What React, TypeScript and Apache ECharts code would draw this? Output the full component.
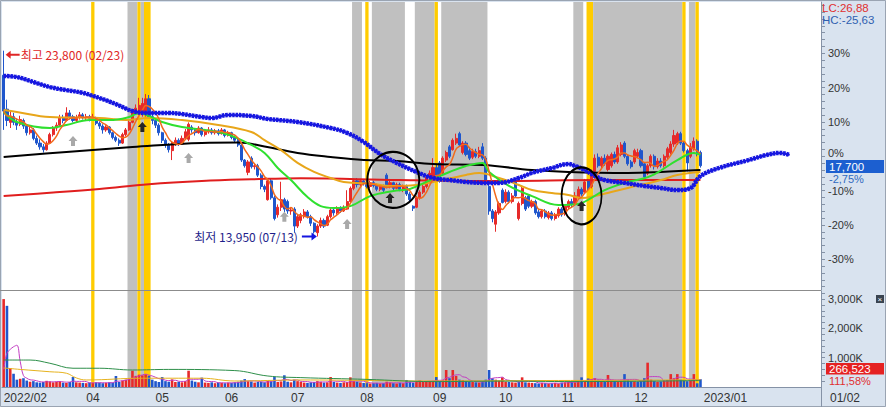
import React, { useEffect, useRef } from "react";
import * as echarts from "echarts";

const FONT = '"Noto Sans CJK KR", "Noto Sans", sans-serif';
const NUM_FONT = '"Liberation Sans", Arial, sans-serif';
const BASE_PRICE = 18200;
const HOLIDAYS = ["2022-03-01","2022-03-09","2022-05-05","2022-06-01","2022-06-06","2022-08-15","2022-09-09","2022-09-12","2022-10-03","2022-10-10","2022-12-30","2023-01-23","2023-01-24"];
const FUTURE_SLOTS = 36;

// [open, close, low, high]
const CANDLES: number[][] = [
[22500,20600,19600,23800],[20700,20100,19800,21200],[20000,20300,19700,20600],[20300,20000,19850,20500],[20000,19850,19600,20200],
[19900,20150,19800,20350],[20100,19800,19650,20200],[19800,19450,19300,19900],[19450,19600,19350,19750],[19600,19150,19050,19700],
[19150,18900,18800,19300],[18900,18700,18550,19100],[18700,18550,18400,18850],[18550,18900,18500,19000],[18900,19350,18850,19450],
[19350,19700,19250,19800],[19700,19850,19550,20000],[19850,20250,19800,20400],[20250,20100,19950,20400],[20100,20500,20050,20800],
[20500,20300,20150,20650],[20300,20100,20000,20400],[20100,20250,20000,20400],[20250,20400,20150,20550],[20400,20250,20150,20500],
[20250,20300,20100,20450],[20300,20200,20050,20400],[20200,20250,20100,20450],[20250,19950,19850,20300],[19950,19800,19650,20050],
[19800,19600,19400,19900],[19600,19750,19500,19850],[19750,19450,19350,19800],[19450,19200,19100,19500],[19200,19050,18950,19300],
[19050,18900,18750,19150],[18900,19350,18850,19450],[19350,19600,19250,19700],[19600,20000,19550,20150],[20000,20550,19950,20700],
[20550,20750,20400,20950],[20500,20900,20400,21300],[20400,21000,20300,21300],[20500,21250,20300,21500],[21250,20300,20200,21450],
[20300,20100,19900,20450],[20100,19850,19700,20200],[19850,19450,19300,19950],[19450,19050,18900,19500],[19050,18800,18650,19150],
[18800,18550,18400,18900],[18500,18900,18000,19000],[18900,19050,18750,19200],[19050,18850,18750,19150],[18850,19150,18800,19300],
[19150,19500,19100,19650],[19100,19900,19000,20000],[19750,19600,19450,19850],[19600,19450,19300,19700],[19450,19700,19400,19800],
[19700,19350,19250,19750],[19350,19500,19250,19650],[19500,19600,19400,19750],[19600,19450,19350,19700],[19450,19550,19350,19650],
[19550,19400,19300,19650],[19400,19600,19350,19700],[19600,19300,19200,19650],[19300,19450,19250,19550],[19450,19200,19100,19500],
[19200,19050,18950,19300],[19050,18800,18700,19150],[18800,18000,17900,18850],[18000,17700,17600,18050],[17350,17900,17200,18000],
[18100,17650,17550,18200],[17650,17700,17500,17850],[17700,17200,17100,17800],[17200,16600,16450,17300],[16600,16450,16300,16700],
[15900,16900,15850,17000],[16900,16000,15900,17000],[16000,14900,14800,16100],[15100,15500,14950,15650],[15500,15900,15300,16850],
[15900,15400,15250,16000],[15800,15300,15150,15900],[15300,15350,15100,15500],[15400,14500,14150,15500],[14500,15000,14400,15150],
[14800,15100,14650,15200],[15000,15250,14900,15400],[15250,15000,14900,15350],[15000,14650,14500,15100],[14650,14200,14100,14700],
[14150,14500,13950,14600],[14500,14800,14400,14950],[14800,14500,14400,14900],[14550,15000,14500,15100],[15000,15350,14900,15450],
[15350,15200,15050,15450],[15200,15450,15100,15550],[15450,15300,15200,15550],[15300,15500,15250,15600],[15400,15800,15350,16400],
[15800,16500,15700,16600],[16500,16900,16400,17000],[16900,16700,16550,17050],[16700,16900,16600,17000],[16900,16750,16650,17000],
[16800,16600,16500,16950],[16600,16800,16500,16900],[16800,16650,16550,16900],[16650,16450,16350,16750],[16450,16600,16350,16700],
[16600,16400,16300,16700],[17200,16600,16500,17300],[16600,16800,16500,16900],[16800,16500,16400,16850],[16500,16700,16450,16800],
[16700,16450,16350,16800],[16450,16600,16300,16700],[16600,16200,16100,16700],[16200,15900,15800,16300],[15550,15450,15300,15600],
[15500,16000,15450,16100],[16000,16300,15900,16400],[16300,16600,16200,16700],[16600,17100,16500,17200],[17100,17300,16950,17450],
[16900,17600,16800,18100],[17600,17200,17050,17800],[17850,16900,16800,17950],[17300,18100,17200,18200],[18000,18400,17900,18500],
[18700,18200,18100,18800],[18550,19050,18500,19150],[18900,19150,18800,19400],[19400,18800,18700,19500],[18400,18900,18300,19000],
[18900,18300,18200,19000],[18500,18100,18000,18700],[18150,18450,18050,18600],[18450,18200,18100,18600],[18200,18500,18100,18700],
[18700,18100,18000,18900],[18100,16900,16700,18200],[16600,15300,15100,16700],[15300,14900,14700,15400],[14600,15250,14200,15350],
[15200,15700,15100,15800],[16400,15750,15700,16500],[15800,16300,15700,16450],[16300,15800,15700,16400],[15800,16100,15700,16250],
[16900,16100,16000,17000],[14900,15700,14800,15800],[15700,16500,15600,16600],[16000,15400,15300,16100],[16100,15550,15450,16200],
[15550,15800,15450,15900],[15800,15200,15100,15900],[15250,15000,14900,15400],[15000,15300,14900,15400],[15300,15000,14900,15400],
[14950,15200,14850,15300],[15200,14900,14800,15300],[14900,15100,14800,15200],[15050,15400,14950,15500],[15400,15100,15000,15500],
[15150,15550,15050,15650],[15500,15800,15400,15900],[15800,15650,15500,15950],[15700,16100,15600,16300],[16000,16450,15950,16600],
[16450,16200,16100,16550],[16300,16850,16200,17000],[16900,16500,16400,17000],[16600,17300,16500,17500],[17400,18100,17300,18300],
[18150,17700,17600,18350],[17700,18100,17550,18200],[18100,17800,17700,18300],[17500,18200,17400,18300],[17700,18300,17600,18400],
[18300,17900,17800,18450],[17900,18650,17800,18800],[18300,18800,18200,18950],[18900,18200,18100,19000],[18200,17800,17700,18300],
[17900,17650,17550,18000],[17900,18500,17800,18600],[18200,18400,18100,18600],[18500,17700,17600,18600],[17800,17100,17000,17900],
[17300,17700,17200,17800],[17700,18200,17600,18300],[18200,17650,17500,18300],[17650,17950,17550,18100],[17950,17700,17600,18100],
[17700,18200,17600,18300],[18150,18600,18050,18700],[18400,18850,18300,19000],[18850,19300,18700,19600],[18900,19400,18800,19500],
[19400,18900,18800,19500],[18900,18500,18400,19000],[18500,17850,17400,18600],[18200,18700,18100,18900],[18600,19000,18500,19200],
[19000,18400,18200,19100],[18400,17700,17600,18500]
];

// volume, thousands of shares
const VOLUMES_K: number[] = [
3000,2770,650,450,250,280,300,220,180,200,160,
150,170,210,190,160,180,200,150,140,170,
340,160,150,140,130,150,140,160,150,130,
140,160,150,375,170,220,250,300,555,380,
420,400,430,380,250,200,170,340,200,180,
260,170,180,160,200,555,220,180,160,320,
150,140,160,130,150,140,130,150,140,160,
180,220,270,200,190,150,170,180,160,210,
200,340,170,190,400,180,160,250,200,180,
150,140,160,170,200,180,150,160,340,170,
150,140,160,170,330,200,180,150,140,130,
120,130,140,120,130,180,150,130,120,140,
130,240,180,150,200,220,180,190,200,210,
340,200,230,580,300,580,380,250,230,200,
180,170,160,150,200,250,580,300,250,220,
330,180,170,160,150,180,330,160,150,140,
130,120,140,130,120,130,140,120,150,160,
170,180,160,200,330,200,290,270,300,250,
200,180,410,220,200,180,220,440,250,200,
190,180,200,300,830,250,200,180,190,210,
240,440,300,440,250,220,200,230,440,125.968,266.523
];

// moving-average style lines: [day index, price]
const GREEN_LINE = [[0,20550],[4,20020],[14,19700],[19,19860],[26,20120],[32,20120],[38,20280],[41,20500],[44,20340],[48,20020],[54,19750],[65,19490],[70,19220],[75,18800],[79,18380],[83,17580],[87,16940],[92,16040],[96,15560],[100,15460],[105,15560],[111,16090],[118,16360],[123,16470],[128,16840],[135,17370],[140,17690],[145,17850],[147,17370],[153,16630],[160,16090],[168,15620],[174,15670],[178,16000],[182,16410],[188,16790],[196,17160],[204,18000],[209,18380],[211,18270]];
const GOLD_LINE = [[0,20650],[4,20550],[14,20280],[29,20230],[37,20120],[44,20230],[54,20120],[65,19860],[75,19490],[79,19060],[84,18530],[89,17850],[94,17370],[99,17050],[103,16840],[112,16730],[117,16630],[125,16680],[130,16840],[140,17210],[144,17310],[150,17050],[156,16680],[160,16410],[166,16250],[171,16150],[175,15990],[179,16100],[184,16310],[189,16520],[199,16940],[204,17210],[211,17370]];
const BLACK_LINE = [[0,18160],[19,18430],[39,18690],[60,18910],[71,18930],[79,18720],[89,18375],[99,18160],[109,18000],[119,17950],[130,17790],[145,17740],[160,17470],[171,17370],[189,17320],[199,17370],[211,17470]];
const RED_LINE = [[0,16100],[15,16280],[29,16470],[44,16720],[60,16890],[75,16980],[90,17040],[120,16940],[150,16890],[181,16940],[211,16940]];
const BLUE_LINE = [[0,22460],[4,22400],[9,22140],[14,21870],[19,21710],[24,21560],[29,21290],[34,20970],[39,20600],[44,20500],[50,20500],[54,20440],[60,20280],[63,20230],[68,20390],[75,20340],[80,20180],[89,20020],[99,19700],[104,19440],[109,18960],[114,18320],[119,17850],[125,17370],[130,17050],[135,16940],[140,16840],[145,16790],[150,16790],[156,17050],[160,17320],[166,17580],[171,17790],[173,17690],[176,17470],[179,17160],[182,16940],[188,16790],[194,16630],[199,16520],[204,16410],[208,16520],[211,17150],[217,17600],[225,17970],[231,18270],[235,18380],[238,18270]];

const VOL_GOLD_LINE = [[0,650],[5,600],[14,520],[19,470],[22,310],[25,240],[42,300],[60,300],[70,205],[90,240],[130,205],[160,220],[190,230],[211,250]];
const VOL_GREEN_LINE = [[0,920],[8,920],[14,810],[21,640],[29,640],[39,580],[50,600],[70,560],[80,375],[90,320],[110,260],[130,185],[150,200],[173,185],[211,220]];

// highlighted periods: [first day, last day, kind] kind 0 = gray, 1 = gold
const BANDS = [[27,27,1],[38,40,0],[41,41,1],[42,42,0],[43,44,1],[106,108,0],[110,110,1],[112,121,0],[125,130,0],[131,131,1],[133,146,0],[173,175,0],[177,178,1],[179,205,0],[206,206,1],[208,209,0],[210,210,1]];

// signal markers [day, price]
const GRAY_ARROWS = [[21,19010],[56,18110],[85,14990],[104,14610]];
const BLACK_ARROWS = [[42,19750],[117,15990],[175,15570]];
const CIRCLES = [[118,16950,52,56],[175,16100,40,57]];
const HIGH_MARK = { day: 0, price: 23800, text: "최고 23,800 (02/23)" };
const LOW_MARK = { day: 95, price: 13950, text: "최저 13,950 (07/13)" };

const PCT_LABELS = [-30, -20, -10, 0, 10, 20, 30];
const VOL_LABELS = [1000, 2000, 3000];

const UP = "#e62a2a";
const DOWN = "#1f56cc";

const pct = (p: number) => (p / BASE_PRICE - 1) * 100;

function tradingDates(total: number): string[] {
  const out: string[] = [];
  const d = new Date(Date.UTC(2022, 1, 23));
  while (out.length < total) {
    const dow = d.getUTCDay();
    const iso = d.toISOString().slice(0, 10);
    if (dow !== 0 && dow !== 6 && !HOLIDAYS.includes(iso)) out.push(iso.replace(/-/g, "/"));
    d.setUTCDate(d.getUTCDate() + 1);
  }
  return out;
}

function buildOption() {
  const n = CANDLES.length;
  const cats = tradingDates(n + FUTURE_SLOTS);
  const labelIdx = new Set<number>();
  let lastShown = -100;
  cats.forEach((c, i) => {
    if (i > n) return;
    if (i === 0 || c.slice(0, 7) !== cats[i - 1].slice(0, 7)) {
      if (i - lastShown >= 10) { labelIdx.add(i); lastShown = i; }
    }
  });
  const closes = CANDLES.map((c) => c[1]);
  const ma5 = closes.map((_, i) => {
    const s = closes.slice(Math.max(0, i - 4), i + 1);
    return [i, pct(s.reduce((a, b) => a + b, 0) / s.length)];
  });
  const volMa5 = VOLUMES_K.map((_, i) => {
    let s = 0;
    for (let k = i - 4; k <= i; k++) if (k >= 0) s += VOLUMES_K[k];
    return [i, s / 5];
  });
  const toPct = (pts: number[][]) => pts.map(([i, p]) => [i, pct(p)]);

  const bandRender = (params: any, api: any) => {
    const s = api.value(0), e = api.value(1), k = api.value(2);
    const p = api.coord([s, 0]);
    const w = api.size([1, 0])[0];
    const cs = params.coordSys;
    return {
      type: "rect",
      shape: { x: p[0] - w / 2, y: cs.y, width: w * (e - s + 1), height: cs.height },
      style: { fill: k ? "#ffcc00" : "#c0c0c0" },
    };
  };

  const upArrow = "path://M4.5,0L9,5L6.5,5L6.5,10L2.5,10L2.5,5L0,5Z";
  const markData: any[] = [];
  markData.push({
    coord: [cats[HIGH_MARK.day], pct(HIGH_MARK.price)],
    symbol: "path://M0,4L5,0L5,3L14,3L14,5L5,5L5,8Z",
    symbolSize: [14, 8], symbolOffset: [9, 4],
    itemStyle: { color: "#e02626" },
    label: { show: true, position: "right", distance: 1, formatter: HIGH_MARK.text, color: "#e02626", fontSize: 12, fontFamily: FONT },
  });
  markData.push({
    coord: [cats[LOW_MARK.day], pct(LOW_MARK.price)],
    symbol: "path://M14,4L9,0L9,3L0,3L0,5L9,5L9,8Z",
    symbolSize: [15, 8], symbolOffset: [-8, 0],
    itemStyle: { color: "#1515e0" },
    label: { show: true, position: "left", distance: 4, formatter: LOW_MARK.text, color: "#1e1e8a", fontSize: 12, fontFamily: FONT },
  });
  GRAY_ARROWS.forEach(([d, p]) => markData.push({ coord: [cats[d], pct(p)], symbol: upArrow, symbolSize: [9, 10], itemStyle: { color: "#a9a9a9" }, label: { show: false } }));
  BLACK_ARROWS.forEach(([d, p]) => markData.push({ coord: [cats[d], pct(p)], symbol: upArrow, symbolSize: [9, 10], itemStyle: { color: "#262626" }, label: { show: false } }));
  CIRCLES.forEach(([d, p, w, h]) => markData.push({ coord: [cats[d], pct(p)], symbol: "circle", symbolSize: [w, h], itemStyle: { color: "rgba(0,0,0,0)", borderColor: "#000", borderWidth: 2 }, label: { show: false } }));

  const line = (name: string, data: any[], color: string, width: number, extra: any = {}) => ({
    name, type: "line", xAxisIndex: 0, yAxisIndex: 0, data, smooth: 0.4, showSymbol: false, symbol: "none",
    connectNulls: true, lineStyle: { color, width }, z: 4, silent: true, ...extra,
  });
  const vline = (name: string, data: any[], color: string) => ({
    name, type: "line", xAxisIndex: 1, yAxisIndex: 1, data, smooth: 0.4, showSymbol: false, symbol: "none",
    lineStyle: { color, width: 1 }, z: 4, silent: true,
  });

  const axisText = { color: "#333", fontSize: 11, lineHeight: 11, fontFamily: NUM_FONT };

  return {
    animation: false,
    backgroundColor: "#d9e3ef",
    grid: [
      { left: 2, top: 2, width: 819, height: 288, show: true, backgroundColor: "#fff", borderWidth: 0, outerBoundsMode: "none" },
      { left: 2, top: 291, width: 819, height: 96, show: true, backgroundColor: "#fff", borderWidth: 0, outerBoundsMode: "none" },
    ],
    xAxis: [
      { type: "category", gridIndex: 0, data: cats, boundaryGap: true, show: false },
      {
        type: "category", gridIndex: 1, data: cats, boundaryGap: true,
        axisLine: { lineStyle: { color: "#8592a6" } },
        axisTick: { interval: (i: number) => labelIdx.has(i), length: 19, lineStyle: { color: "#8592a6" } },
        axisLabel: {
          color: "#333", fontSize: 12, fontFamily: NUM_FONT, interval: (i: number) => labelIdx.has(i), align: "left", margin: 5,
          formatter: (v: string, i: number) => (i === 0 || v.slice(5, 7) === "01" ? v.slice(0, 7) : v.slice(5, 7)),
        },
        splitLine: { show: false },
      },
    ],
    yAxis: [
      {
        type: "value", gridIndex: 0, position: "right", min: -38.95, max: 44.95, scale: true,
        axisLine: { show: true, lineStyle: { color: "#8592a6" } },
        axisTick: { show: true, length: 4, customValues: Array.from({ length: 42 }, (_, k) => -38 + 2 * k), lineStyle: { color: "#8592a6" } },
        axisLabel: {
          ...axisText, customValues: PCT_LABELS, margin: 7,
          formatter: (v: number) => (v === 0 ? `{z|${v}%}` : `${v}%`),
          rich: { z: { color: "#333", fontSize: 11, lineHeight: 11, fontFamily: NUM_FONT, padding: [0, 0, 7, 0] } },
        },
        splitLine: { show: false },
      },
      {
        type: "value", gridIndex: 1, position: "right", min: 0, max: 3276,
        axisLine: { show: true, lineStyle: { color: "#8592a6" } },
        axisTick: { show: true, length: 4, customValues: Array.from({ length: 16 }, (_, k) => 200 * (k + 1)), lineStyle: { color: "#8592a6" } },
        axisLabel: { ...axisText, customValues: VOL_LABELS, margin: 7, formatter: (v: number) => `${v.toLocaleString("en-US")}K` },
        splitLine: { show: false },
      },
    ],
    series: [
      { type: "custom", xAxisIndex: 0, yAxisIndex: 0, data: BANDS, renderItem: bandRender, z: 1, silent: true, encode: { x: 0, y: 1 } },
      { type: "custom", xAxisIndex: 1, yAxisIndex: 1, data: BANDS, renderItem: bandRender, z: 1, silent: true, encode: { x: 0, y: 1 } },
      {
        type: "candlestick", xAxisIndex: 0, yAxisIndex: 0, barWidth: 2.6, z: 3,
        data: CANDLES.map(([o, c, l, h]) => [pct(o), pct(c), pct(l), pct(h)]),
        itemStyle: { color: UP, color0: DOWN, borderColor: UP, borderColor0: DOWN, borderWidth: 1 },
        markPoint: { data: markData, z: 6, silent: true },
      },
      line("red", toPct(RED_LINE), "#e01e1e", 2),
      line("black", toPct(BLACK_LINE), "#000000", 2),
      line("gold", toPct(GOLD_LINE), "#e8a61a", 2),
      line("green", toPct(GREEN_LINE), "#2fe02f", 2),
      line("ma5", ma5, "#f26a1b", 1.5),
      line("blueCore", toPct(BLUE_LINE), "#1717e0", 2),
      line("blueBeads", toPct(BLUE_LINE), "#1717e0", 4.5, { lineStyle: { color: "#1717e0", width: 4.5, type: [2.6, 0.8] } }),
      {
        type: "bar", xAxisIndex: 1, yAxisIndex: 1, barWidth: 2.6, z: 3, silent: true,
        data: VOLUMES_K.map((v, i) => ({ value: v, itemStyle: { color: i === 0 || closes[i] >= closes[i - 1] ? UP : DOWN } })),
      },
      vline("vma5", volMa5, "#c23cc2"),
      vline("vma20", VOL_GOLD_LINE, "#e6b21e"),
      vline("vma60", VOL_GREEN_LINE, "#2e8f4a"),
    ],
  };
}

function buildGraphics(priceY: number) {
  const n = CANDLES.length;
  const last = CANDLES[n - 1][1];
  const lows = CANDLES.map((c) => c[2]);
  const highs = CANDLES.map((c) => c[3]);
  const fmt2 = (v: number) => v.toFixed(2).replace(".", ",");
  const lc = (last / Math.min(...lows) - 1) * 100;
  const hc = (last / Math.max(...highs) - 1) * 100;
  const chg = pct(last);
  const vLast = VOLUMES_K[n - 1];
  const vPrev = VOLUMES_K[n - 2];
  const vChg = (vLast / vPrev - 1) * 100;
  const t = (x: number, y: number, text: string, fill: string, extra: any = {}) => ({
    type: "text", x, y, z: 100,
    style: { text, fill, fontSize: 11, lineHeight: 10, fontFamily: NUM_FONT, verticalAlign: "middle", ...extra },
  });
  const py = Math.round(priceY);
  return [
    { type: "rect", z: 99, shape: { x: 0.5, y: 0.5, width: 885, height: 406 }, style: { fill: "none", stroke: "#9aa4b2", lineWidth: 1 } },
    { type: "line", z: 99, shape: { x1: 0, y1: 290.5, x2: 821, y2: 290.5 }, style: { stroke: "#8c8c8c", lineWidth: 1 } },
    { type: "line", z: 99, shape: { x1: 821.5, y1: 387, x2: 821.5, y2: 407 }, style: { stroke: "#8592a6", lineWidth: 1 } },
    t(822, 7.5, `LC:${fmt2(lc)}`, "#e03030", { fontSize: 11.5 }),
    t(822, 19.5, `HC:${fmt2(hc)}`, "#2f5fb0", { fontSize: 11.5 }),
    { type: "rect", z: 100, shape: { x: 826, y: py - 6, width: 58, height: 13 }, style: { fill: "#1c5fd0" } },
    t(829, py + 0.5, last.toLocaleString("en-US"), "#ffffff", { fontSize: 11.5 }),
    t(829, py + 13, `${fmt2(chg)}%`, "#2f6ac0"),
    { type: "rect", z: 100, shape: { x: 826, y: 363, width: 58, height: 11.5 }, style: { fill: "#e52222" } },
    t(829, 369, Math.round(vLast * 1000).toLocaleString("en-US"), "#ffffff", { fontSize: 11.5 }),
    t(829, 381, `${fmt2(vChg)}%`, "#e03030"),
    { type: "rect", z: 100, shape: { x: 876, y: 295, width: 8, height: 8 }, style: { fill: "#3a4450" } },
    t(877.5, 299, "×", "#ffffff", { fontSize: 8, lineHeight: 8 }),
    t(830, 397.5, "01/02", "#333333", { fontSize: 12 }),
  ];
}

export default function App() {
  const ref = useRef<HTMLDivElement>(null);
  useEffect(() => {
    if (!ref.current) return;
    const chart = echarts.init(ref.current, null, { renderer: "svg" });
    chart.setOption(buildOption() as any);
    const lastPct = pct(CANDLES[CANDLES.length - 1][1]);
    const py = chart.convertToPixel({ yAxisIndex: 0 } as any, lastPct) as unknown as number;
    chart.setOption({ graphic: { elements: buildGraphics(py) } } as any);
    return () => chart.dispose();
  }, []);
  return <div ref={ref} style={{ position: "fixed", left: 0, top: 0, width: 886, height: 407 }} />;
}
